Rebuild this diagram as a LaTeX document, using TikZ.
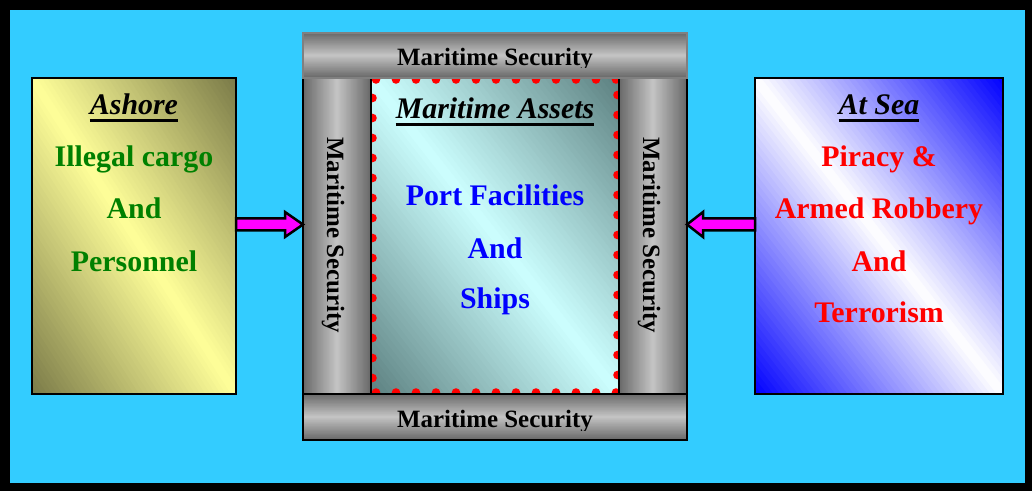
\documentclass[tikz,border=0pt]{standalone}
\usepackage{fontspec}
\setmainfont{Liberation Serif}
\usetikzlibrary{calc}
\definecolor{bgcyan}{HTML}{33CCFF}
\definecolor{ashdk}{HTML}{7A7A48}
\definecolor{ashlt}{HTML}{FFFF99}
\definecolor{seadk}{HTML}{0000FF}
\definecolor{sealt}{HTML}{FFFFFF}
\definecolor{ctrdk}{HTML}{5C8080}
\definecolor{ctrlt}{HTML}{CCFFFF}
\definecolor{bardk}{HTML}{686868}
\definecolor{barlt}{HTML}{C4C4C4}
\definecolor{arrmag}{HTML}{FF00FF}
\definecolor{txtgreen}{HTML}{008000}
\definecolor{txtred}{HTML}{FF0000}
\definecolor{txtblue}{HTML}{0000FF}
\tikzset{
  grad/.style n args={4}{path picture={
    \coordinate (gc) at (path picture bounding box.center);
    \foreach \i in {0,...,79}{
      \pgfmathsetmacro\gp{100*(1-abs(2*(\i+0.5)/80-1))}
      \pgfmathsetmacro\ga{#2*(2*\i/80-1)}
      \pgfmathsetmacro\gb{#2*(2*(\i+1.8)/80-1)}
      \fill[#4!\gp!#3] ($(gc)+(-#1:\ga)+(90-#1:300)$) -- ($(gc)+(-#1:\gb)+(90-#1:300)$)
        -- ($(gc)+(-#1:\gb)+(-90-#1:300)$) -- ($(gc)+(-#1:\ga)+(-90-#1:300)$) -- cycle;
    }}},
  panel/.style={draw=black, line width=2bp, inner sep=0pt, outer sep=0pt},
  hbar/.style={draw=black, line width=2bp, inner sep=0pt, outer sep=0pt,
    grad={90}{#1}{bardk}{barlt}},
  vbar/.style={draw=black, line width=2bp, inner sep=0pt, outer sep=0pt,
    grad={0}{34}{bardk}{barlt}},
  txt/.style={font=\fontsize{30}{36}\selectfont\bfseries, inner sep=0pt, anchor=base},
  ttl/.style={font=\fontsize{30}{36}\selectfont\bfseries\itshape, inner sep=0pt, anchor=base, text=black},
  mstxt/.style={font=\fontsize{25}{30}\selectfont\bfseries, inner sep=0pt, anchor=base, text=black},
  uline/.style={line width=3bp, black},
  reddot/.style={fill=txtred, draw=none},
  blockarr/.style={draw=black, line width=2.5bp, fill=arrmag, line join=miter}
}
\begin{document}
\begin{tikzpicture}[x=1bp,y=-1bp]
\useasboundingbox (0,0) rectangle (1032,491);
\fill[black] (0,0) rectangle (1032,491);
\fill[bgcyan] (10,10) rectangle (1025,483);

% side boxes
\node[panel, grad={32.85}{171.4}{ashdk}{ashlt}, minimum width=204bp, minimum height=316bp] (ashore) at (134,236) {};
\node[panel, grad={38.1}{195.1}{seadk}{sealt}, minimum width=248bp, minimum height=316bp] (atsea) at (879,236) {};

% center box
\node[panel, draw=none, grad={38.1}{195.1}{ctrdk}{ctrlt}, minimum width=248bp, minimum height=316bp] (assets) at (495,236) {};
\foreach \k in {0,...,12}{
  \fill[reddot] ($(assets.north west)+(5+20*\k,1.5)$) circle[radius=4.3bp];
  \fill[reddot] ($(assets.south west)+(5+20*\k,-1.5)$) circle[radius=4.3bp];
}
\foreach \k in {1,...,15}{
  \fill[reddot] ($(assets.north west)+(1.5,20*\k)$) circle[radius=4.3bp];
  \fill[reddot] ($(assets.north east)+(-1.5,20*\k-3)$) circle[radius=4.3bp];
}

% security frame
\node[vbar, minimum width=68bp, minimum height=316bp] (leftcol) at (337,236) {};
\node[vbar, minimum width=68bp, minimum height=316bp] (rightcol) at (653,236) {};
\node[hbar=22.5, draw=gray, minimum width=384bp, minimum height=45bp] (topbar) at (495,55.5) {};
\node[hbar=23, minimum width=384bp, minimum height=46bp] (botbar) at (495,417) {};

% frame labels
\begin{scope}
  \clip (303,33) rectangle (687,68);
  \node[mstxt] (topms) at (495,66) {Maritime Security};
\end{scope}
\begin{scope}
  \clip (303,394) rectangle (687,430);
  \node[mstxt] (botms) at (495,427) {Maritime Security};
\end{scope}
\node[mstxt, rotate=-90] (leftms) at (327,235) {Maritime Security};
\node[mstxt, rotate=-90] (rightms) at (643,235) {Maritime Security};

% Ashore text
\node[ttl] (ashT) at (134,115) {Ashore};
\draw[uline] ([yshift=-6bp]ashT.base west) -- ([yshift=-6bp]ashT.base east);
\node[txt, text=txtgreen] (ash1) at (134,167) {Illegal cargo};
\node[txt, text=txtgreen] (ash2) at (134,219) {And};
\node[txt, text=txtgreen] (ash3) at (134,272) {Personnel};

% At Sea text
\node[ttl] (seaT) at (879,115) {At Sea};
\draw[uline] ([yshift=-6bp]seaT.base west) -- ([yshift=-6bp]seaT.base east);
\node[txt, text=txtred] (sea1) at (879,167) {Piracy \&};
\node[txt, text=txtred] (sea2) at (879,219) {Armed Robbery};
\node[txt, text=txtred] (sea3) at (879,272) {And};
\node[txt, text=txtred] (sea4) at (879,323) {Terrorism};

% Center text
\node[ttl] (ctrT) at (495,119) {Maritime Assets};
\draw[uline] ([yshift=-6bp]ctrT.base west) -- ([yshift=-6bp]ctrT.base east);
\node[txt, text=txtblue] (ctr1) at (495,206) {Port Facilities};
\node[txt, text=txtblue] (ctr2) at (495,259) {And};
\node[txt, text=txtblue] (ctr3) at (495,309) {Ships};

% arrows
\coordinate (lS) at (ashore.east |- 0,224.5);
\coordinate (lT) at (leftcol.west |- 0,224.5);
\draw[blockarr] ($(lS)+(0,-6)$) -- ($(lT)+(-18,-6)$) -- ($(lT)+(-18,-12.5)$) -- (lT)
  -- ($(lT)+(-18,12.5)$) -- ($(lT)+(-18,6)$) -- ($(lS)+(0,6)$) -- cycle;
\coordinate (rS) at (atsea.west |- 0,224.5);
\coordinate (rT) at (rightcol.east |- 0,224.5);
\draw[blockarr] ($(rS)+(0,-6)$) -- ($(rT)+(16,-6)$) -- ($(rT)+(16,-12.5)$) -- (rT)
  -- ($(rT)+(16,12.5)$) -- ($(rT)+(16,6)$) -- ($(rS)+(0,6)$) -- cycle;
\end{tikzpicture}
\end{document}
